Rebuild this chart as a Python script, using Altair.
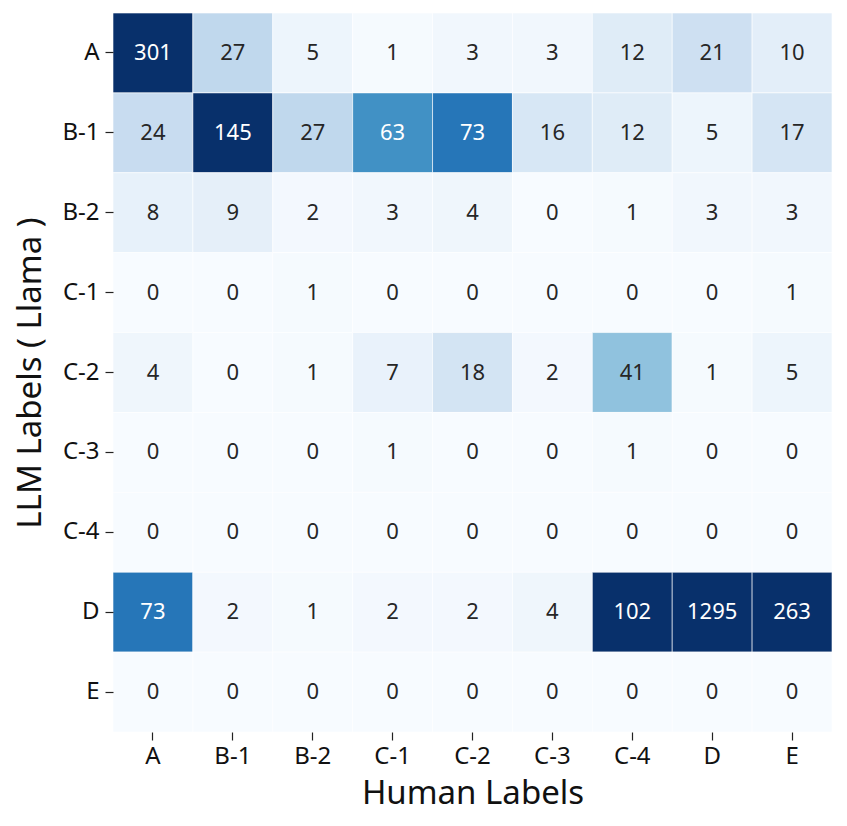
import altair as alt
import pandas as pd

labels = ["A", "B-1", "B-2", "C-1", "C-2", "C-3", "C-4", "D", "E"]
row_A = [301, 27, 5, 1, 3, 3, 12, 21, 10]
row_B1 = [24, 145, 27, 63, 73, 16, 12, 5, 17]
row_B2 = [8, 9, 2, 3, 4, 0, 1, 3, 3]
row_C1 = [0, 0, 1, 0, 0, 0, 0, 0, 1]
row_C2 = [4, 0, 1, 7, 18, 2, 41, 1, 5]
row_C3 = [0, 0, 0, 1, 0, 0, 1, 0, 0]
row_C4 = [0, 0, 0, 0, 0, 0, 0, 0, 0]
row_D = [73, 2, 1, 2, 2, 4, 102, 1295, 263]
row_E = [0, 0, 0, 0, 0, 0, 0, 0, 0]
rows = [row_A, row_B1, row_B2, row_C1, row_C2, row_C3, row_C4, row_D, row_E]

recs = []
for llm, vals in zip(labels, rows):
    for human, v in zip(labels, vals):
        recs.append({"llm": llm, "human": human, "count": v})
df = pd.DataFrame(recs)

FONT = "Noto Sans"
blues = ["#f7fbff", "#deebf7", "#c6dbef", "#9ecae1", "#6baed6",
         "#4292c6", "#2171b5", "#08519c", "#08306b"]
dom = [i * 12.5 for i in range(9)]

base = alt.Chart(df)
x = alt.X("human:N", sort=labels, title="Human Labels",
          axis=alt.Axis(labelAngle=0, domain=False, tickSize=8, tickWidth=1.2,
                        tickColor="#222", labelFontSize=24, labelColor="#111",
                        titleFontSize=33, titleFontWeight="normal", titleColor="#111",
                        labelPadding=4, titlePadding=9, labelFont=FONT, titleFont=FONT))
y = alt.Y("llm:N", sort=labels, title="LLM Labels ( Llama )",
          axis=alt.Axis(domain=False, tickSize=8, tickWidth=1.2, tickColor="#222",
                        labelFontSize=24, labelColor="#111",
                        titleFontSize=33, titleFontWeight="normal", titleColor="#111",
                        labelPadding=6, titlePadding=14, labelFont=FONT, titleFont=FONT))

rect = base.mark_rect(stroke="white", strokeWidth=0.6).encode(
    x=x, y=y,
    color=alt.Color("count:Q", legend=None,
                    scale=alt.Scale(domain=dom, range=blues, clamp=True,
                                    interpolate="rgb")),
)
text = base.mark_text(fontSize=22, font=FONT).encode(
    x=alt.X("human:N", sort=labels),
    y=alt.Y("llm:N", sort=labels),
    text="count:Q",
    color=alt.condition(alt.datum.count >= 50, alt.value("white"), alt.value("#262626")),
)

chart = (rect + text).properties(
    width=719, height=719,
    autosize="none",
    padding={"left": 105, "top": 5, "right": 7, "bottom": 80},
).configure_view(stroke=None).configure_scale(bandPaddingInner=0, bandPaddingOuter=0)

chart.save("out.html", embed_options={"renderer": "svg", "actions": False})
